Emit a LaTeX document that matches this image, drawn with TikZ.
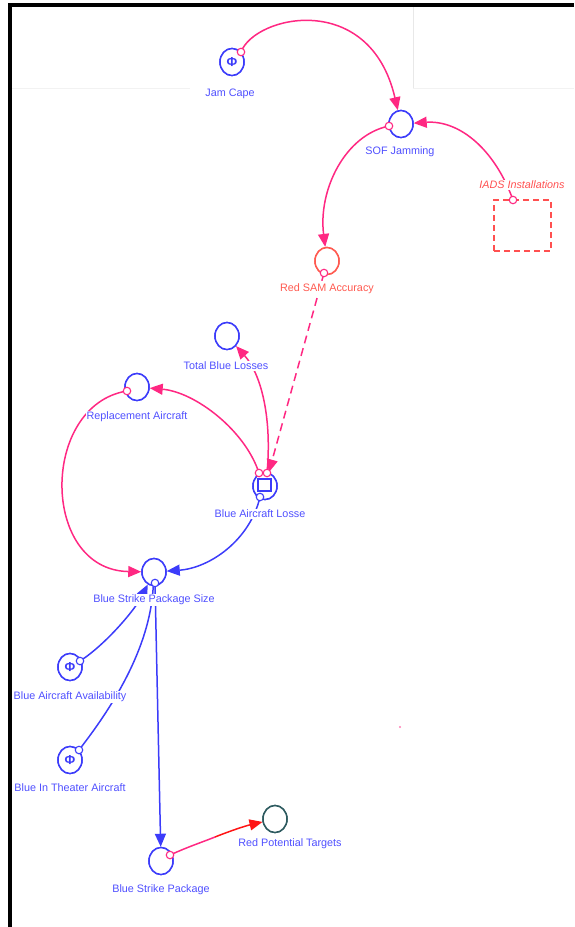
\documentclass[tikz,border=0pt]{standalone}
\usepackage{fontspec}
\setmainfont{Liberation Sans}
\usetikzlibrary{arrows.meta,shapes.geometric}
\definecolor{vblue}{RGB}{60,60,250}
\definecolor{tblue}{RGB}{80,80,255}
\definecolor{cpink}{RGB}{255,40,130}
\definecolor{samred}{RGB}{255,90,80}
\definecolor{iadsred}{RGB}{255,80,80}
\definecolor{tealc}{RGB}{45,90,95}
\definecolor{arrred}{RGB}{255,20,20}
\begin{document}
\begin{tikzpicture}[x=1pt,y=-1pt,
  var/.style={ellipse, draw=vblue, line width=1.5pt, minimum width=24pt, minimum height=27pt, inner sep=0pt, fill=white},
  pdot/.style={circle, draw=cpink, fill=white, line width=1.1pt, minimum size=7.5pt, inner sep=0pt},
  bdot/.style={circle, draw=vblue, fill=white, line width=1.1pt, minimum size=7.5pt, inner sep=0pt},
  lab/.style={text=tblue, font=\fontsize{10.8}{12}\selectfont, inner sep=0.6pt, fill=white},
  phi/.style={text=vblue, font=\fontsize{13}{14}\selectfont\bfseries},
  plink/.style={draw=cpink, line width=1.5pt, -{Triangle[length=13pt,width=11pt]}},
  blink/.style={draw=vblue, line width=1.5pt, -{Triangle[length=13pt,width=11pt]}},
  bline/.style={draw=vblue, line width=1.5pt},
]
\useasboundingbox (0,0) rectangle (574,927);
% screenshot frame
\draw[gray!18, line width=0.7pt] (413,7) -- (413,88);
\draw[gray!10, line width=0.7pt] (12,88) -- (190,88);
\draw[gray!10, line width=0.7pt] (413,88) -- (574,88);
\fill[black] (8,3) rectangle (574,7);
\fill[black] (8,3) rectangle (12,927);
\fill[cpink!60] (400,727) circle (1.2);

% variable nodes
\node[var] (jc) at (232,62) {};
\node[var] (sof) at (401,124) {};
\node[var, draw=samred] (rsam) at (327,261) {};
\node[var] (tbl) at (227,336) {};
\node[var] (ra) at (137,387) {};
\node[var] (bal) at (265,486) {};
\node[var] (bsps) at (154,572) {};
\node[var] (baa) at (70,667) {};
\node[var] (bita) at (70,760) {};
\node[var] (bsp) at (161,861) {};
\node[var, draw=tealc] (rpt) at (275,819) {};
\node[draw=iadsred, dash pattern=on 6pt off 4pt, line width=1.5pt, minimum width=57pt, minimum height=51pt, inner sep=0pt] (iads) at (522.5,225.5) {};

% connector origins
\coordinate (jco) at (241,52);
\coordinate (sofo) at (389,126);
\coordinate (iadso) at (513,200);
\coordinate (rsamo) at (324,273);
\coordinate (rao) at (127,391);
\coordinate (balo1) at (259,473);
\coordinate (balo2) at (267,473);
\coordinate (balo3) at (260,497);
\coordinate (bspso) at (155,583);
\coordinate (baao) at (80,661);
\coordinate (bitao) at (79,750);
\coordinate (bspo) at (170,855);
\coordinate (rptm) at (215,837);

% connectors
\draw[plink] (jco) .. controls (255,15) and (370,-10) .. (sof);
\draw[plink] (iadso) .. controls (495,150) and (460,120) .. (sof);
\draw[plink] (sofo) .. controls (345,135) and (318,190) .. (rsam);
\draw[plink, dash pattern=on 8pt off 5pt] (rsamo) -- (bal);
\draw[plink] (balo2) .. controls (272,420) and (262,375) .. (tbl);
\draw[plink] (balo1) .. controls (245,430) and (195,392) .. (ra);
\draw[plink] (rao) .. controls (40,405) and (40,570) .. (bsps);
\draw[blink] (balo3) .. controls (250,540) and (210,568) .. (bsps);
\draw[blink] (baao) .. controls (105,645) and (135,610) .. (bsps);
\draw[bline] (bitao) .. controls (110,710) and (150,650) .. (bsps);
\draw[blink] (bspso) -- (bsp);
\draw[draw=cpink, line width=1.5pt] (bspo) .. controls (190,846) and (200,843) .. (rptm);
\draw[draw=arrred, line width=1.5pt, -{Triangle[length=13pt,width=11pt]}] (rptm) .. controls (230,831) and (245,826) .. (rpt);

% redraw node outlines above connectors
\node[var] at (jc) {};
\node[var] at (sof) {};
\node[var, draw=samred] at (rsam) {};
\node[var] at (tbl) {};
\node[var] at (ra) {};
\node[var] at (bal) {};
\node[var] at (bsps) {};
\node[var] at (baa) {};
\node[var] at (bita) {};
\node[var] at (bsp) {};
\node[var, draw=tealc] at (rpt) {};

% inner symbols
\node[phi] (jcphi) at (jc) {Φ};
\node[phi] (baaphi) at (baa) {Φ};
\node[phi] (bitaphi) at (bita) {Φ};
\node[draw=vblue, line width=1.3pt, minimum width=13pt, minimum height=12pt, inner sep=0pt] (balsq) at (264.5,485) {};

% small connector circles
\node[pdot] (jcod) at (jco) {};
\node[pdot] (sofod) at (sofo) {};
\node[pdot] (iadsod) at (iadso) {};
\node[pdot] (rsamod) at (rsamo) {};
\node[pdot] (raod) at (rao) {};
\node[pdot] (balod1) at (balo1) {};
\node[pdot] (balod2) at (balo2) {};
\node[bdot] (balod3) at (balo3) {};
\node[bdot] (bspsod) at (bspso) {};
\node[bdot] (baaod) at (baao) {};
\node[bdot] (bitaod) at (bitao) {};
\node[pdot] (bspod) at (bspo) {};

% labels
\node[lab] (jcl) at (230,94) {Jam Cape};
\node[lab] (sofl) at (400,152) {SOF Jamming};
\node[lab, text=iadsred, font=\fontsize{10.8}{12}\selectfont\itshape] (iadsl) at (522,185) {IADS Installations};
\node[lab, text=samred] (rsaml) at (327,289) {Red SAM Accuracy};
\node[lab] (tbll) at (226,366) {Total Blue Losses};
\node[lab] (ral) at (137,417) {Replacement Aircraft};
\node[lab] (ball) at (260,514) {Blue Aircraft Losse};
\node[lab] (bspsl) at (154,600) {Blue Strike Package Size};
\node[lab] (baal) at (70,697) {Blue Aircraft Availability};
\node[lab] (bital) at (70,788) {Blue In Theater Aircraft};
\node[lab] (bspl) at (161,890) {Blue Strike Package};
\node[lab] (rptl) at (290,844) {Red Potential Targets};
\end{tikzpicture}
\end{document}
